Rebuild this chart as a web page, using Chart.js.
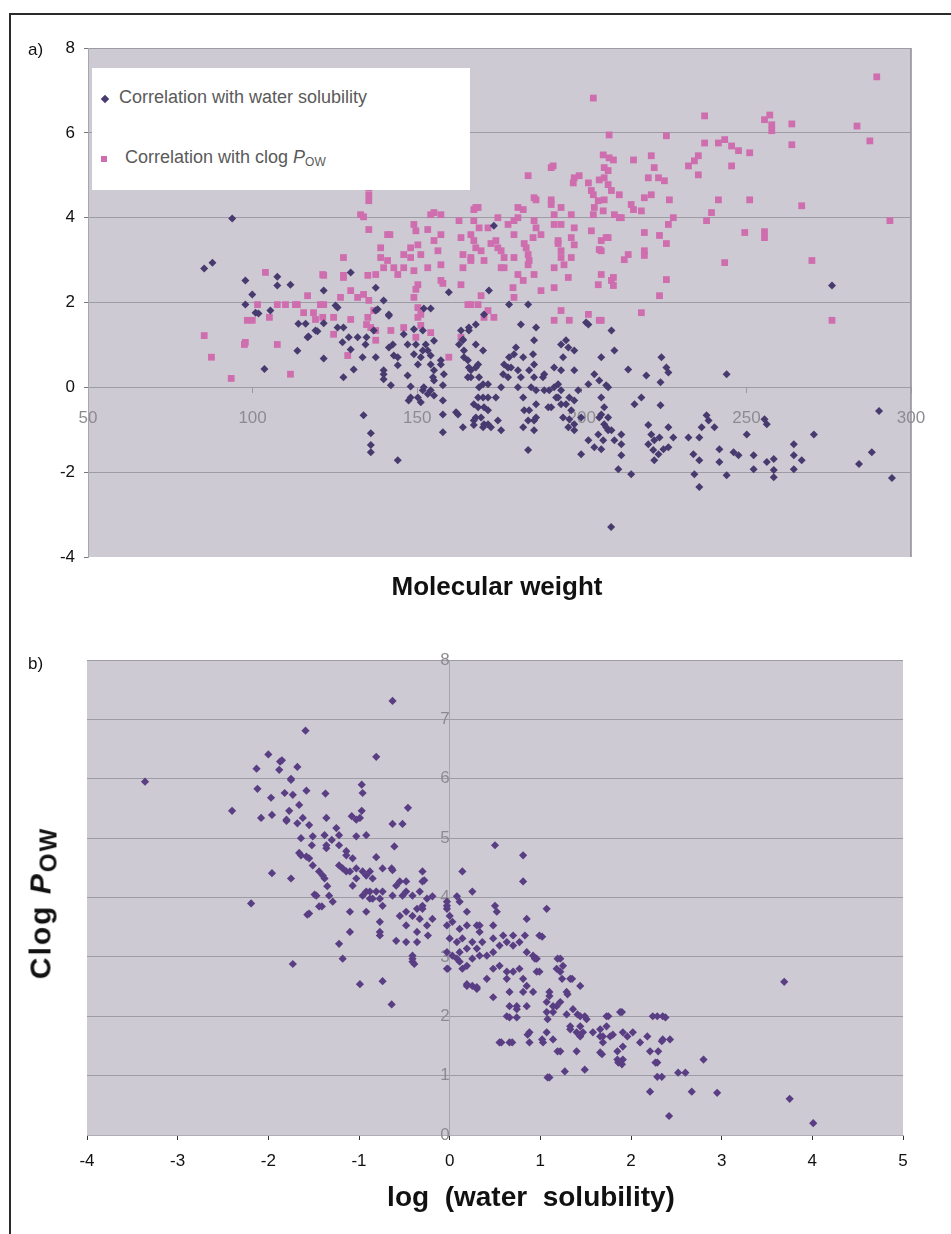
<!DOCTYPE html>
<html>
<head>
<meta charset="utf-8">
<script src="https://cdn.jsdelivr.net/npm/chart.js@4.4.1/dist/chart.umd.min.js"></script>
<style>
  html, body { margin: 0; padding: 0; background: #ffffff; }
  #page { position: relative; width: 951px; height: 1234px; overflow: hidden; background: #fff; font-family: 'Liberation Sans', Arial, sans-serif; }
  canvas { position: absolute; left: 0; }
  .txt { position: absolute; white-space: nowrap; color: #111; line-height: 1; }
  .legend { position: absolute; left: 92px; top: 68px; width: 378px; height: 122px; background: #ffffff; }
  .legend .row { position: absolute; white-space: nowrap; font-size: 18px; line-height: 18px; color: #5a5a5a; }
  .legend sub { font-size: 12px; vertical-align: -3px; }
  .mk { position: absolute; }
</style>
</head>
<body>
<div id="page">
  <div style="position:absolute;left:10px;top:13px;width:941px;height:2px;background:#2a2a2a"></div>
  <div style="position:absolute;left:9px;top:13px;width:2px;height:1221px;background:#2a2a2a"></div>

  <canvas id="chartA" width="951" height="620" style="top:0"></canvas>
  <canvas id="chartB" width="951" height="614" style="top:620px"></canvas>

  <div class="txt" style="left:28px;top:41px;font-size:17px">a)</div>
  <div class="txt" style="left:28px;top:655px;font-size:17px">b)</div>

  <div class="legend">
    <div class="mk" style="left:10px;top:28px;width:6px;height:6px;background:#4a3c72;transform:rotate(45deg)"></div>
    <div class="row" style="left:27px;top:20px">Correlation with water solubility</div>
    <div class="mk" style="left:9px;top:88px;width:6px;height:6px;background:#cf6eae"></div>
    <div class="row" style="left:33px;top:80px">Correlation with clog <i>P</i><sub>OW</sub></div>
  </div>

  <div class="txt" style="left:497px;top:573px;transform:translateX(-50%);font-size:26px;font-weight:bold">Molecular weight</div>
  <div class="txt" style="left:531px;top:1183px;transform:translateX(-50%);font-size:28px;font-weight:bold">log&nbsp;&nbsp;(water&nbsp;&nbsp;solubility)</div>
  <div class="txt" style="left:43px;top:903px;transform:translate(-50%,-50%) rotate(-90deg);font-size:30px;font-weight:bold;letter-spacing:2px">Clog <i>P</i><sub style="font-size:24px;vertical-align:-6px">OW</sub></div>
</div>

<script>
// ---------- Data ----------
// Panel a: molecular weight vs log(water solubility)
const waterSolubilityVsMW = [
[93.8,3.98],[85.3,2.8],[87.8,2.94],[97.8,2.52],[99.9,2.19],[97.8,1.95],[101.8,1.74],[105.4,1.81],[107.5,2.61],[107.5,2.4],[111.5,2.42],[121.6,2.28],[129.8,2.71],[137.4,2.35],[139.8,2.05],[152,1.86],[154.1,1.86],[159.6,2.24],[125.2,1.93],[141.4,1.72],[100.9,1.76],[103.6,0.43],[113.6,0.86],[113.9,1.5],[116.1,1.5],[117,1.2],[119.7,1.32],[121.6,1.51],[121.6,0.68],[125.8,1.88],[125.8,1.41],[127.6,1.41],[127.6,0.24],[130.7,0.42],[127.3,1.06],[129.2,1.18],[129.8,0.89],[133.4,0.71],[134.6,1.18],[133.7,-0.66],[135.9,-1.08],[135.9,-1.36],[135.9,-1.53],[137.4,0.71],[138,1.84],[139.8,0.31],[139.8,0.19],[141.4,1.69],[141.4,0.94],[142,0.05],[142.9,0.75],[144.1,0.52],[144.1,-1.72],[145.9,1.25],[149,1.37],[147.1,0.28],[148,0.02],[147.4,-0.31],[150.2,-0.24],[149.6,1.01],[150.2,0.54],[151.7,0.87],[152,0],[153.2,-0.16],[154.1,0.75],[155.1,0.4],[155.1,1.1],[155.1,0.16],[157.2,0.64],[157.8,0.05],[157.8,-0.31],[157.8,-0.64],[157.8,-1.06],[161.8,-0.59],[163.9,-0.94],[163.3,1.34],[163.9,1.11],[164.2,0.71],[165.4,0.24],[167.2,-0.4],[167.2,-0.78],[167.2,-0.89],[116.7,1.18],[119.1,1.34],[131.9,1.18],[134.3,1.01],[136.8,1.34],[137.4,1.81],[139.8,0.4],[142.6,1.01],[144.1,0.71],[147.1,1.01],[149,0.78],[151.1,0.71],[151.7,1.34],[152.6,1.01],[153.2,0.87],[154.1,0.54],[154.8,0.24],[151.7,-0.07],[148,-0.24],[151.1,-0.35],[154.1,-0.07],[155.1,-0.19],[157.2,0.54],[158.1,0.31],[162.4,-0.64],[163.9,1.13],[164.2,0.87],[165.4,0.64],[166.3,0.4],[166.3,0.24],[165.7,1.34],[167.8,1.48],[167.8,1.01],[168.5,0.54],[168.8,0.24],[168.8,0],[168.5,-0.24],[168.5,-0.47],[169.4,-0.71],[170.3,-0.87],[171.5,-0.87],[171.5,-0.54],[171.5,-0.24],[171.5,0.07],[171.8,2.28],[173.3,3.81],[174.5,-0.78],[175.5,-1.01],[177.6,0.47],[177.6,0.24],[177.9,0.71],[179.4,0.78],[180,0.94],[180.6,0.4],[180.6,0],[182.2,-0.24],[182.5,-0.54],[183.7,-1.48],[183.7,1.95],[181.5,1.48],[185.2,0.78],[185.5,0.54],[185.5,0.24],[186.1,-0.07],[186.1,-0.4],[185.5,-0.78],[185.5,-1.01],[185.5,1.11],[188.2,0.24],[188.6,-0.07],[189.8,-0.47],[191.6,0],[192.2,-0.24],[193.7,1.01],[195.2,1.11],[197.7,0.87],[194.3,0.71],[193.7,0.4],[193.7,-0.07],[193.7,-0.4],[194.3,-0.71],[195.9,-0.94],[196.8,-0.54],[197.7,-0.31],[198.9,-0.07],[197.7,0.4],[197.7,-0.87],[199.8,-0.71],[202,1.48],[202,0.07],[203.8,0.31],[205.3,0.16],[205.9,0.71],[205.9,-0.64],[206.8,-0.87],[208,-0.71],[208,-1.01],[199.8,-1.58],[203.8,-1.41],[206.5,-1.25],[209,1.34],[209.9,0.87],[208,0],[209.9,-1.25],[212,-1.11],[212,-1.34],[211.1,-1.93],[214.1,0.42],[216,-0.4],[215,-2.05],
[165.7,1.41],[162.7,1.01],[165.7,0.47],[167.8,0.47],[170,0.87],[170,0.07],[170,-0.24],[170.3,-0.47],[167.8,-0.71],[170,-0.94],[172.4,-0.94],[173.9,-0.24],[175.5,0],[176.1,0.31],[176.4,0.54],[178.5,0.47],[182.2,0.71],[181.5,0.24],[182.2,-0.94],[183.7,-0.78],[186.1,1.41],[184,0.4],[184.6,0],[184,-0.54],[186.1,-0.71],[188.6,0.31],[190.1,-0.07],[190.7,-0.47],[191.6,0.47],[192.8,0.07],[195.9,0.94],[196.2,-0.75],[196.2,-0.24],[195.2,-0.4],[192.8,-0.24],[197.7,-1.01],[201.3,1.53],[207.4,0.05],[205.9,-0.24],[206.8,-0.47],[205.3,-0.71],[207.4,-0.94],[205,-1.11],[202,-1.25],[205.9,-1.46],[209,-1.01],[212,-1.6],[208.9,-3.29],[218.1,-0.24],[219.6,0.28],[224.2,0.71],[225.7,0.47],[226.3,0.35],[223.9,0.12],[223.9,-0.42],[220.2,-0.89],[221.1,-1.11],[220.2,-1.34],[222,-1.25],[223.6,-1.18],[221.7,-1.48],[223.3,-1.58],[224.8,-1.46],[222,-1.72],[226.3,-0.94],[227.8,-1.18],[226.3,-1.41],[232.4,-1.18],[233.9,-1.58],[235.7,-1.72],[234.2,-2.05],[235.7,-2.35],[236.4,-0.94],[235.7,-1.18],[238.5,-0.78],[237.9,-0.66],[240.3,-0.94],[244,0.31],[241.8,-1.46],[241.8,-1.76],[244,-2.07],[246.1,-1.53],[247.6,-1.6],[250.1,-1.11],[252.2,-1.6],[252.2,-1.93],[255.5,-0.75],[256.2,-0.87],[256.2,-1.76],[258.3,-1.69],[258.3,-1.95],[258.3,-2.12],[264.4,-1.34],[264.4,-1.6],[264.4,-1.93],[266.8,-1.72],[270.5,-1.11],[276,2.4],[284.2,-1.81],[288.1,-1.53],[290.3,-0.56],[294.2,-2.14],[170.3,1.72],[177.9,1.95]
];

// Panel a: molecular weight vs clog Pow
const clogPVsMW = [
[135.3,4.71],[135.3,4.54],[135.3,4.4],[133.7,4.02],[135.3,3.72],[141.7,3.6],[149.6,3.69],[155.1,4.12],[157.2,4.07],[162.7,3.93],[167.2,4.19],[127.6,3.06],[138.9,3.06],[103.9,2.71],[101.5,1.95],[110,1.95],[113.6,1.95],[115.5,1.76],[121.6,2.64],[127.6,2.64],[135,2.64],[149.6,2.31],[157.8,2.45],
[85.3,1.22],[87.5,0.71],[93.5,0.21],[97.5,1.01],[98.4,1.58],[99.9,1.58],[105.1,1.65],[107.5,1.01],[111.5,0.31],[107.5,1.95],[113,1.95],[118.5,1.76],[119.1,1.6],[121.6,1.95],[124.6,1.65],[129.8,1.6],[124.6,1.25],[128.9,0.75],[135,1.65],[135.9,1.41],[137.4,1.11],[142,1.34],[145.9,1.41],[150.2,1.65],[149.6,1.18],[151.1,1.46],[154.1,1.29],[159.6,0.71],[163.3,1.18],[165.4,1.95],
[97.8,1.06],[116.7,2.16],[121.3,2.66],[120.6,1.95],[121.3,1.65],[127.6,2.59],[126.7,2.12],[129.8,2.28],[131.9,2.12],[133.7,2.19],[135.3,2.05],[136.8,1.81],[134.6,1.48],[137.4,1.34],[132.8,4.07],[137.4,2.66],[139.8,2.82],[141,3.6],[138.9,3.29],[141,2.99],[142.9,2.82],[144.1,2.66],[145.9,2.82],[148,3.06],[148,3.29],[150.2,3.36],[151.1,3.13],[149,2.75],[150.2,2.42],[149,2.12],[150.2,1.88],[151.1,1.72],[153.2,3.72],[155.1,3.46],[157.2,3.6],[156.3,3.22],[157.2,2.89],[153.2,2.82],[157.2,2.52],[154.1,4.07],[149,3.84],[145.9,3.13],[163.3,3.53],[163.9,3.13],[163.9,2.82],[163.3,2.42],[166.3,3.06],[167.2,3.46],[167.2,3.93],[168.5,4.24],[169.4,3.22],[171.5,3.76],[172.4,3.39],[174.5,4.0],[175.5,3.22],[176.4,2.82],[169.4,2.16],[168.5,1.95],[171.5,1.81],[173.3,1.65],[177.6,3.84],[179.4,3.6],[180.6,4.0],[182.5,3.39],[183.7,3.13],[183.7,2.89],[179.4,3.06],[180.6,4.24],[179.4,2.12],[180.6,2.66],[185.5,4.47],[185.5,3.93],[187.6,3.6],[185.5,2.66],[187.6,2.28],[190.7,4.42],[191.6,4.07],[193.7,3.84],[192.8,3.46],[193.7,3.22],[194.6,2.89],[196.8,3.53],[196.8,3.06],[191.6,2.35],[190.7,5.18],[191.6,1.58],[193.7,1.81],[197.7,4.94],[202,1.72],[202.9,4.64],[203.8,4.24],[206.8,4.42],[208,5.11],[209,4.64],[209.9,4.07],[212,4.0],[205.9,3.46],[205.9,3.22],[205.9,2.66],[208,3.53],[209,2.52],[214.1,3.13],[215,4.31],[205.9,1.58],[197.7,3.36],
[203.5,6.82],[208.3,5.95],[225.7,5.93],[237.3,6.4],[255.5,6.31],[257.1,6.42],[257.7,6.19],[257.7,6.05],[263.8,6.21],[263.8,5.72],[289.6,7.32],[283.6,6.16],[287.5,5.81],[206.5,5.48],[209.6,5.36],[206.8,5.18],[206.8,4.94],[205.3,4.89],[208,4.78],[211.4,4.54],[203.5,4.54],[205,4.4],[206.5,4.16],[203.5,4.07],[211.4,4.0],[215.7,5.36],[221.1,5.46],[222,5.18],[223.3,4.94],[225.1,4.87],[220.2,4.94],[221.1,4.54],[219,4.47],[218.1,4.16],[215.7,4.19],[226.6,4.42],[227.8,4.0],[226.3,3.84],[232.4,5.22],[234.2,5.34],[235.4,5.46],[235.4,5.01],[237.3,5.76],[241.5,5.76],[243.4,5.84],[245.5,5.69],[247.6,5.58],[251,5.53],[245.5,5.22],[241.5,4.42],[239.4,4.12],[237.9,3.93],[251,4.42],[249.5,3.65],[255.5,3.67],[255.5,3.53],[266.8,4.28],[243.4,2.94],[269.9,2.99],[293.6,3.93],[276,1.58],[223.6,2.16],[225.7,2.54],[218.1,1.76],[205.3,1.58],[219,3.65],[219,3.22],[219,3.11],[223.6,3.58],[225.7,3.39],[212.9,3.01],[205.3,3.25],[205,2.42],[209.6,2.59],[209.6,2.4],[207.4,3.53],[202.9,3.69],[190.7,4.31],[193.7,4.24],[196.8,4.07],[197.7,3.76],[191.6,3.84],[192.8,3.39],[193.7,3.06],[191.6,2.82],[195.9,2.59],[186.1,3.76],[185.2,3.53],[183.1,3.29],[184,2.99],[182.2,2.52],[179.1,2.35],[175.5,2.82],[176.4,3.06],[179.4,3.93],[182.2,4.19],[186.1,4.42],[183.7,4.99],[191.3,5.22],[197.4,4.82],[199.2,4.99],[202,4.82],[208.3,5.41],[167.8,4.24],[168.8,3.76],[166.3,3.6],[167.8,3.29],[166.3,2.99],[170.3,2.99],[173.9,3.46],[174.5,3.29],[166.3,1.95],[170.3,1.65],[196.2,1.58]
];

// Panel b: log(water solubility) vs Clog Pow
const clogPVsLogSolubility = [
[-3.36,5.95],[-2.40,5.46],[-2.13,6.17],[-2.0,6.41],[-1.87,6.29],[-1.88,6.15],[-1.68,6.2],[-1.75,6.0],[-1.59,6.81],[-2.12,5.83],[-1.97,5.68],[-1.82,5.76],[-1.73,5.73],[-1.58,5.8],[-1.37,5.75],[-1.66,5.56],[-1.77,5.46],[-2.08,5.34],[-1.96,5.39],[-1.80,5.29],[-1.68,5.25],[-1.55,5.22],[-1.36,5.34],[-1.25,5.17],[-1.08,5.37],[-1.03,5.31],[-0.97,5.46],[-0.97,5.9],[-0.96,5.76],[-0.81,6.37],[-0.63,7.31],[-0.46,5.51],[-0.63,5.24],[-0.52,5.24],[-1.64,5.0],[-1.51,5.03],[-1.38,5.05],[-1.30,4.97],[-1.52,4.88],[-1.36,4.83],[-1.22,5.05],[-1.03,5.03],[-0.92,5.05],[-0.61,4.86],[-1.66,4.75],[-1.58,4.69],[-1.51,4.54],[-1.44,4.44],[-1.38,4.32],[-1.96,4.41],[-1.75,4.32],[-2.19,3.9],[-1.57,3.71],[-1.44,3.85],[-1.49,4.05],[-1.35,4.19],[-1.33,4.03],[-1.22,4.54],[-1.18,4.49],[-1.10,4.44],[-1.07,4.66],[-1.14,4.78],[-1.03,4.32],[-0.96,4.44],[-0.88,4.44],[-0.81,4.68],[-0.85,4.32],[-0.81,4.10],[-0.92,4.10],[-0.88,3.98],[-0.77,3.98],[-0.74,4.10],[-0.64,4.49],[-0.55,4.27],[-0.48,4.10],[-0.30,4.44],[-0.28,4.29],[-0.33,4.10],[-0.19,4.02],[-1.10,3.76],[-0.92,3.76],[-0.77,3.59],[-0.55,3.69],[-0.41,3.69],[-0.30,3.86],[0.14,4.44],[0.25,4.10],[0.08,4.02],[0.50,4.88],[0.50,3.86],[-0.03,3.86],[0.19,3.76],[0.33,3.53],[0.48,3.53],
[-1.85,6.31],[-1.75,5.98],[-1.80,5.31],[-1.62,5.34],[-0.99,5.34],[-1.14,4.71],[-1.36,4.88],[-1.22,4.88],[-1.64,4.71],[-1.55,4.66],[-1.40,4.37],[-1.14,4.44],[-1.03,4.49],[-1.07,4.20],[-0.92,4.37],[-0.74,4.49],[-0.88,4.10],[-0.96,4.03],[-0.85,3.98],[-0.74,3.86],[-0.63,4.46],[-0.59,4.20],[-0.48,4.27],[-0.52,4.03],[-0.63,4.03],[-0.41,4.03],[-0.30,4.27],[-0.25,3.98],[-0.36,3.81],[-0.30,3.81],[-0.48,3.76],[-0.33,3.64],[-0.48,3.53],[-0.77,3.36],[-0.59,3.27],[-0.48,3.25],[-0.36,3.25],[-0.36,3.42],[-0.25,3.53],[-0.19,3.64],[-0.24,3.36],[-0.41,3.02],[-0.41,2.92],[-0.99,2.54],[-0.74,2.59],[-0.64,2.2],[-1.73,2.88],[-1.22,3.22],[-1.18,2.97],[-1.10,3.42],[-1.29,3.93],[-1.47,4.03],[-1.41,3.85],
[-0.03,3.93],[-0.03,3.81],[0,3.69],[0.11,3.93],[-0.03,3.53],[0.03,3.59],[0.11,3.47],[0.19,3.53],[0.30,3.53],[0.33,3.42],[0,3.31],[0.08,3.25],[0.14,3.31],[0.25,3.25],[0.36,3.25],[0.48,3.31],[0.52,3.76],[0.59,3.36],[0.70,3.36],[0.83,3.36],[0.85,3.64],[0.81,4.27],[0.81,4.71],[0.99,3.36],[1.07,3.81],[-0.03,3.08],[0.03,3.02],[0.11,3.08],[0.19,3.14],[0.30,3.14],[-0.03,2.80],[0.11,2.92],[0.19,2.85],[0.25,2.97],[0.33,3.02],[0.41,3.02],[0.48,3.08],[0.55,3.19],[0.63,3.25],[0.70,3.19],[0.77,3.25],[0.19,2.51],[0.25,2.51],[0.30,2.46],[0.41,2.63],[0.48,2.80],[0.55,2.85],[0.48,2.32],[0.63,2.75],[0.63,2.63],[0.66,2.41],[0.70,2.75],[0.77,2.80],[0.81,2.63],[0.81,2.41],[0.85,2.51],[0.74,2.17],[0.66,1.98],[0.74,1.98],[0.85,2.17],[0.92,2.41],[0.96,2.75],[0.92,3.02],[0.85,3.08],[0.99,2.75],[0.96,2.97],[1.10,2.41],[1.07,2.24],[1.14,2.17],[1.22,2.24],[1.14,2.07],[1.22,2.97],[1.25,2.85],[1.22,2.75],[1.33,2.63],[1.44,2.51],[1.29,2.41],[1.36,2.12],[1.44,2.0],[1.33,1.83],[1.44,1.83],[1.51,1.95],[1.44,1.66],[1.58,1.73],[1.66,1.78],[1.73,2.0],[1.69,1.66],[1.77,1.66],[1.88,2.07],[1.91,1.73],[1.85,1.41],[1.91,1.27],[2.02,1.73],[2.18,1.66],[2.29,2.0],[2.35,2.0],[2.35,1.61],[2.21,1.41],[2.29,1.22],[0.55,1.56],[0.66,1.56],[0.88,1.73],[0.88,1.56],[1.03,1.56],[1.07,1.73],[1.14,1.61],[1.22,1.41],[1.40,1.41],[1.66,1.39],[1.85,1.27],
[1.02,3.34],[0.94,2.97],[1.19,2.97],[1.18,2.80],[1.24,2.63],[1.35,2.63],[1.30,2.37],[1.10,2.34],[1.18,2.17],[1.07,2.07],[1.08,1.95],[1.29,2.03],[1.41,2.03],[1.49,2.0],[1.33,1.78],[1.40,1.73],[1.47,1.73],[1.66,1.66],[1.69,1.56],[1.75,2.0],[1.73,1.83],[1.80,1.69],[1.90,2.07],[1.96,1.66],[1.91,1.49],[2.10,1.56],[2.24,2.0],[2.38,1.98],[2.34,1.58],[2.43,1.61],[2.30,1.41],[1.68,1.36],[1.86,1.22],[1.90,1.19],[2.27,1.22],[2.29,0.98],[2.34,0.98],[2.52,1.05],[2.60,1.05],[2.80,1.27],[2.21,0.73],[2.67,0.73],[2.95,0.71],[2.42,0.32],[1.10,0.97],[1.27,1.07],[1.49,1.10],[0.69,1.56],[0.86,1.69],[1.02,1.61],[1.19,1.41],[1.08,0.97],[3.69,2.58],[3.75,0.61],[4.01,0.20],
[-1.55,3.73],[-0.77,3.42],[-0.41,2.97],[-0.39,2.88],[-0.02,2.80],[0.14,2.80],[0.08,2.97],[0.19,2.54],[0.30,2.49],[0.57,1.56],[0.63,2.0],[0.66,2.17],[0.74,2.12]
];

// Axis ranges / tick steps
const mwAxis = { min: 50, max: 300, step: 50 };
const valueAxisA = { min: -4, max: 8, step: 2 };
const solAxis = { min: -4, max: 5, step: 1 };
const clogAxisB = { min: 0, max: 8, step: 1 };

// ---------- Styling ----------
const FONT = "'Liberation Sans', Arial, sans-serif";
const PLOT_BG = '#cecad3';
const GRID = '#9d9ba3';
const DARK = '#463a6e';
const PINK = '#cf6eae';
const PURPLE = '#593e84';

const plotBg = {
  id: 'plotBg',
  beforeDraw(chart, args, opts) {
    const { ctx, chartArea: a } = chart;
    ctx.save();
    ctx.fillStyle = opts.color;
    ctx.fillRect(a.left, a.top, a.right - a.left, a.bottom - a.top);
    if (opts.edge) {
      ctx.strokeStyle = opts.edge;
      ctx.lineWidth = 1.5;
      ctx.beginPath();
      ctx.moveTo(a.right, a.top);
      ctx.lineTo(a.right, a.bottom);
      ctx.stroke();
    }
    ctx.restore();
  }
};

const toXY = arr => arr.map(([x, y]) => ({ x, y }));

new Chart(document.getElementById('chartA'), {
  type: 'scatter',
  plugins: [plotBg],
  data: {
    datasets: [
      { label: 'Correlation with water solubility', data: toXY(waterSolubilityVsMW),
        pointStyle: 'rectRot', pointRadius: 4, pointHoverRadius: 4,
        backgroundColor: DARK, borderWidth: 0 },
      { label: 'Correlation with clog Pow', data: toXY(clogPVsMW),
        pointStyle: 'rect', pointRadius: 4.8, pointHoverRadius: 4.8,
        backgroundColor: PINK, borderWidth: 0 }
    ]
  },
  options: {
    responsive: false, animation: false, devicePixelRatio: 1,
    layout: { padding: { top: 48, right: 40, bottom: 63, left: 0 } },
    plugins: { legend: { display: false }, tooltip: { enabled: false },
               plotBg: { color: PLOT_BG, edge: '#8f8d95' } },
    scales: {
      x: {
        type: 'linear', position: { y: 0 }, min: mwAxis.min, max: mwAxis.max,
        ticks: { stepSize: mwAxis.step, color: '#8d8b92', font: { family: FONT, size: 17 }, padding: 16, maxRotation: 0 },
        grid: { drawOnChartArea: false, drawTicks: true, tickLength: 5, tickColor: '#9a98a0' },
        border: { display: true, color: GRID, width: 1 }
      },
      y: {
        type: 'linear', position: 'left', min: valueAxisA.min, max: valueAxisA.max,
        ticks: { stepSize: valueAxisA.step, color: '#111', font: { family: FONT, size: 17 }, padding: 9 },
        grid: { color: c => (c.tick && c.tick.value === valueAxisA.min) ? 'rgba(0,0,0,0)' : GRID,
                tickColor: '#777', tickLength: 4, lineWidth: 1 },
        border: { display: true, color: '#a9a7ae', width: 1 },
        afterFit: s => { s.width = 88; }
      }
    }
  }
});

new Chart(document.getElementById('chartB'), {
  type: 'scatter',
  plugins: [plotBg],
  data: {
    datasets: [
      { label: 'Clog Pow', data: toXY(clogPVsLogSolubility),
        pointStyle: 'rectRot', pointRadius: 4.1, pointHoverRadius: 4.1,
        backgroundColor: PURPLE, borderWidth: 0 }
    ]
  },
  options: {
    responsive: false, animation: false, devicePixelRatio: 1,
    layout: { padding: { top: 40, right: 48, bottom: 0, left: 87 } },
    plugins: { legend: { display: false }, tooltip: { enabled: false },
               plotBg: { color: PLOT_BG, edge: null } },
    scales: {
      x: {
        type: 'linear', position: 'bottom', min: solAxis.min, max: solAxis.max,
        ticks: { stepSize: solAxis.step, color: '#111', font: { family: FONT, size: 17 }, padding: 11, maxRotation: 0 },
        grid: { drawOnChartArea: false, drawTicks: true, tickLength: 5, tickColor: '#333' },
        border: { display: true, color: '#b0aeb5', width: 1 },
        afterFit: s => { s.height = 99; }
      },
      y: {
        type: 'linear', position: { x: 0 }, min: clogAxisB.min, max: clogAxisB.max,
        ticks: { stepSize: clogAxisB.step, color: '#8d8b92', font: { family: FONT, size: 17 }, padding: 8 },
        grid: { color: GRID, tickLength: 4, tickColor: '#9a98a0', lineWidth: 1 },
        border: { display: true, color: '#a9a7ae', width: 1 }
      }
    }
  }
});
</script>
</body>
</html>
